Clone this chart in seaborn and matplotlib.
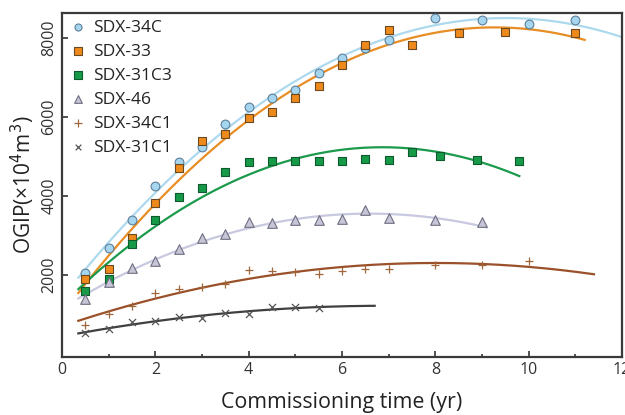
import numpy as np
import pandas as pd
import matplotlib
matplotlib.use("Agg")
import matplotlib.pyplot as plt
import seaborn as sns

# Well names and their measured OGIP points (x = commissioning time in years, y = OGIP in 10^4 m3)
wells = ["SDX-34C", "SDX-33", "SDX-31C3", "SDX-46", "SDX-34C1", "SDX-31C1"]

x_34c = [0.5, 1, 1.5, 2, 2.5, 3, 3.5, 4, 4.5, 5, 5.5, 6, 6.5, 7, 8, 9, 10, 11]
y_34c = [2050, 2700, 3410, 4260, 4860, 5250, 5820, 6250, 6480, 6700, 7130, 7510, 7760, 7960, 8520, 8450, 8370, 8450]

x_33 = [0.5, 1, 1.5, 2, 2.5, 3, 3.5, 4, 4.5, 5, 5.5, 6, 6.5, 7, 7.5, 8.5, 9.5, 11]
y_33 = [1910, 2150, 2950, 3830, 4710, 5390, 5580, 5990, 6120, 6490, 6790, 7330, 7820, 8220, 7820, 8130, 8170, 8130]

x_31c3 = [0.5, 1, 1.5, 2, 2.5, 3, 3.5, 4, 4.5, 5, 5.5, 6, 6.5, 7, 7.5, 8.1, 8.9, 9.8]
y_31c3 = [1590, 1910, 2780, 3410, 3980, 4220, 4620, 4860, 4900, 4900, 4900, 4880, 4940, 4920, 5130, 5020, 4920, 4890]

x_46 = [0.5, 1, 1.5, 2, 2.5, 3, 3.5, 4, 4.5, 5, 5.5, 6, 6.5, 7, 8, 9]
y_46 = [1400, 1840, 2190, 2360, 2670, 2950, 3050, 3350, 3310, 3390, 3390, 3420, 3640, 3450, 3390, 3360]

x_34c1 = [0.5, 1, 1.5, 2, 2.5, 3, 3.5, 4, 4.5, 5, 5.5, 6, 6.5, 7, 8, 9, 10]
y_34c1 = [740, 1030, 1230, 1560, 1650, 1710, 1790, 2120, 2110, 2080, 2040, 2110, 2170, 2160, 2250, 2270, 2360]

x_31c1 = [0.5, 1, 1.5, 2, 2.5, 3, 3.5, 4, 4.5, 5, 5.5]
y_31c1 = [540, 640, 810, 850, 930, 910, 1040, 1030, 1200, 1190, 1170]

# span of each quadratic trend line (start, end in years)
fit_start = [0.35, 0.35, 0.35, 0.35, 0.35, 0.35]
fit_end = [12.3, 11.2, 9.8, 9.1, 11.4, 6.7]

xs = [x_34c, x_33, x_31c3, x_46, x_34c1, x_31c1]
ys = [y_34c, y_33, y_31c3, y_46, y_34c1, y_31c1]

# styles
face_colors = ["#a6d6ef", "#ee8a1c", "#169a48", "#c6c6d8", "#a0663c", "#555555"]
edge_colors = ["#5c7f99", "#6b4a22", "#0f5a2c", "#6e6e80", "#a0663c", "#555555"]
line_colors = ["#add9ee", "#e88d24", "#1c9a4c", "#c8c8e0", "#9a5028", "#404040"]
markers = ["o", "s", "s", "^", "+", "x"]
sizes = [40, 40, 40, 48, 40, 26]

plt.rcParams['font.family'] = ['Open Sans', 'DejaVu Sans']

fig = plt.figure(figsize=(6.25, 4.15), dpi=100)
ax = fig.add_axes([0.0992, 0.1398, 0.896, 0.829])

for i, name in enumerate(wells):
    df = pd.DataFrame({"x": xs[i], "y": ys[i]})
    # quadratic trend line through the points
    coef = np.polyfit(df["x"], df["y"], 2)
    grid = np.linspace(fit_start[i], fit_end[i], 200)
    fit = pd.DataFrame({"x": grid, "y": np.polyval(coef, grid)})
    sns.lineplot(data=fit, x="x", y="y", ax=ax, color=line_colors[i], linewidth=1.6, zorder=2)

for i, name in enumerate(wells):
    df = pd.DataFrame({"x": xs[i], "y": ys[i]})
    if markers[i] in ["+", "x"]:
        sns.scatterplot(data=df, x="x", y="y", ax=ax, marker=markers[i], color=face_colors[i],
                        s=sizes[i], linewidth=0.9, label=name, zorder=3)
    else:
        sns.scatterplot(data=df, x="x", y="y", ax=ax, marker=markers[i], color=face_colors[i],
                        edgecolor=edge_colors[i], s=sizes[i], linewidth=0.8, label=name, zorder=3)

ax.set_xlim(0, 12)
ax.set_ylim(-70, 8640)
ax.set_xticks([0, 2, 4, 6, 8, 10, 12])
ax.set_xticks([1, 3, 5, 7, 9, 11], minor=True)
ax.set_yticks([2000, 4000, 6000, 8000])
ax.tick_params(axis="both", which="major", direction="in", length=4, width=1.2, labelsize=11.5, colors="#333333")
ax.tick_params(axis="x", which="minor", direction="in", length=2, width=1.2, color="#333333")
for lab in ax.get_yticklabels():
    lab.set_rotation(90)
    lab.set_va("center")

for sp in ax.spines.values():
    sp.set_color("#3a3a3a")
    sp.set_linewidth(1.6)

ax.set_xlabel("Commissioning time (yr)", fontsize=15.4, color="#222222", labelpad=10)
ax.set_ylabel("OGIP(×10$^4$m$^3$)", fontsize=15, color="#222222", labelpad=3)

leg = ax.legend(loc="upper left", frameon=False, fontsize=12.5, handlelength=1.0, handletextpad=0.4,
                labelspacing=0.45, borderaxespad=0.1, borderpad=0.3, markerscale=0.8)
for t in leg.get_texts():
    t.set_color("#222222")

fig.savefig("out.png", dpi=100)
